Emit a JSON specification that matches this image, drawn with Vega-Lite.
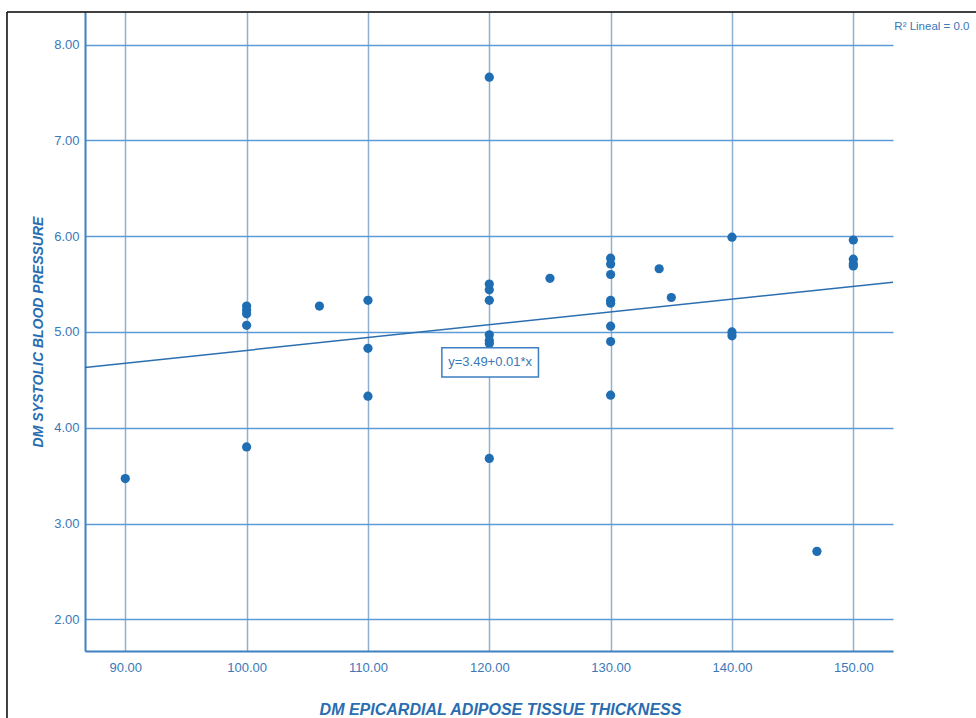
{
  "$schema": "https://vega.github.io/schema/vega-lite/v6.json",
  "width": 808,
  "height": 639,
  "autosize": "none",
  "padding": {"left": 85, "top": 12, "right": 83, "bottom": 67},
  "background": "white",
  "config": {"view": {"stroke": null}, "font": "Liberation Sans"},
  "datasets": {
    "points": [
      {"x": 90, "y": 3.47},
      {"x": 100, "y": 5.27}, {"x": 100, "y": 5.23}, {"x": 100, "y": 5.19}, {"x": 100, "y": 5.07}, {"x": 100, "y": 3.80},
      {"x": 106, "y": 5.27},
      {"x": 110, "y": 5.33}, {"x": 110, "y": 4.83}, {"x": 110, "y": 4.33},
      {"x": 120, "y": 7.66}, {"x": 120, "y": 5.50}, {"x": 120, "y": 5.44}, {"x": 120, "y": 5.33},
      {"x": 120, "y": 4.97}, {"x": 120, "y": 4.91}, {"x": 120, "y": 4.88}, {"x": 120, "y": 3.68},
      {"x": 125, "y": 5.56},
      {"x": 130, "y": 5.77}, {"x": 130, "y": 5.71}, {"x": 130, "y": 5.60}, {"x": 130, "y": 5.33},
      {"x": 130, "y": 5.30}, {"x": 130, "y": 5.06}, {"x": 130, "y": 4.90}, {"x": 130, "y": 4.34},
      {"x": 134, "y": 5.66},
      {"x": 135, "y": 5.36},
      {"x": 140, "y": 5.99}, {"x": 140, "y": 5.00}, {"x": 140, "y": 4.96},
      {"x": 147, "y": 2.71},
      {"x": 150, "y": 5.96}, {"x": 150, "y": 5.76}, {"x": 150, "y": 5.71}, {"x": 150, "y": 5.69}
    ],
    "fit": [{"x": 86.68, "y": 4.63}, {"x": 153.27, "y": 5.52}],
    "box": [{"x": 116.09, "x2": 124.05, "y": 4.836, "y2": 4.529, "label": "y=3.49+0.01*x", "cx": 120.07, "cy": 4.682}],
    "r2": [{"x": 153.38, "y": 8.18, "label": "R² Lineal = 0.0"}],
    "frameV": [{"x": 80.25, "y": 8.34, "y2": 0.9}],
    "frameH": [{"x": 80.25, "x2": 170, "y": 8.34}]
  },
  "encoding": {
    "x": {
      "field": "x", "type": "quantitative",
      "scale": {"domain": [86.68, 153.27], "nice": false, "zero": false},
      "axis": {
        "values": [90, 100, 110, 120, 130, 140, 150],
        "format": ".2f",
        "grid": true, "gridColor": "#8fb0cf", "gridWidth": 1.5,
        "domainColor": "#3f80c0", "domainWidth": 2,
        "ticks": false,
        "labelColor": "#3a78b8", "labelFontSize": 13, "labelPadding": 10,
        "labelFont": "Liberation Sans",
        "title": "DM EPICARDIAL ADIPOSE TISSUE THICKNESS",
        "titleFont": "Liberation Sans", "titleFontStyle": "italic", "titleFontWeight": "bold",
        "titleFontSize": 16, "titleColor": "#2a6db0", "titlePadding": 27,
        "titleX": 415, "titleAlign": "center"
      }
    },
    "y": {
      "field": "y", "type": "quantitative",
      "scale": {"domain": [1.67, 8.34], "nice": false, "zero": false},
      "axis": {
        "values": [2, 3, 4, 5, 6, 7, 8],
        "format": ".2f",
        "grid": true, "gridColor": "#5c9bd5", "gridWidth": 1.5,
        "domainColor": "#3f80c0", "domainWidth": 2,
        "ticks": false,
        "labelColor": "#3a78b8", "labelFontSize": 13, "labelPadding": 6,
        "labelFont": "Liberation Sans",
        "title": "DM SYSTOLIC BLOOD PRESSURE",
        "titleFont": "Liberation Sans", "titleFontStyle": "italic", "titleFontWeight": "bold",
        "titleFontSize": 14, "titleColor": "#2a6db0", "titlePadding": 8
      }
    }
  },
  "layer": [
    {
      "data": {"name": "points"},
      "mark": {"type": "point", "filled": true, "shape": "circle", "size": 85, "color": "#1f6db3", "opacity": 1}
    },
    {
      "data": {"name": "fit"},
      "mark": {"type": "line", "color": "#2b6fb0", "strokeWidth": 1.5}
    },
    {
      "data": {"name": "box"},
      "mark": {"type": "rect", "fill": "white", "stroke": "#3d7fc0", "strokeWidth": 1.5},
      "encoding": {
        "x": {"field": "x", "type": "quantitative"},
        "x2": {"field": "x2"},
        "y": {"field": "y", "type": "quantitative"},
        "y2": {"field": "y2"}
      }
    },
    {
      "data": {"name": "box"},
      "mark": {"type": "text", "fontSize": 13, "color": "#3a78b8", "font": "Liberation Sans", "align": "center", "baseline": "middle"},
      "encoding": {
        "x": {"field": "cx", "type": "quantitative"},
        "y": {"field": "cy", "type": "quantitative"},
        "text": {"field": "label"}
      }
    },
    {
      "data": {"name": "r2"},
      "mark": {"type": "text", "fontSize": 11.5, "color": "#3a78b8", "font": "Liberation Sans", "align": "left", "baseline": "middle"},
      "encoding": {"text": {"field": "label"}}
    },
    {
      "data": {"name": "frameV"},
      "mark": {"type": "rule", "color": "black", "strokeWidth": 1.5},
      "encoding": {"y2": {"field": "y2"}}
    },
    {
      "data": {"name": "frameH"},
      "mark": {"type": "rule", "color": "black", "strokeWidth": 1.5},
      "encoding": {"x2": {"field": "x2"}}
    }
  ]
}
